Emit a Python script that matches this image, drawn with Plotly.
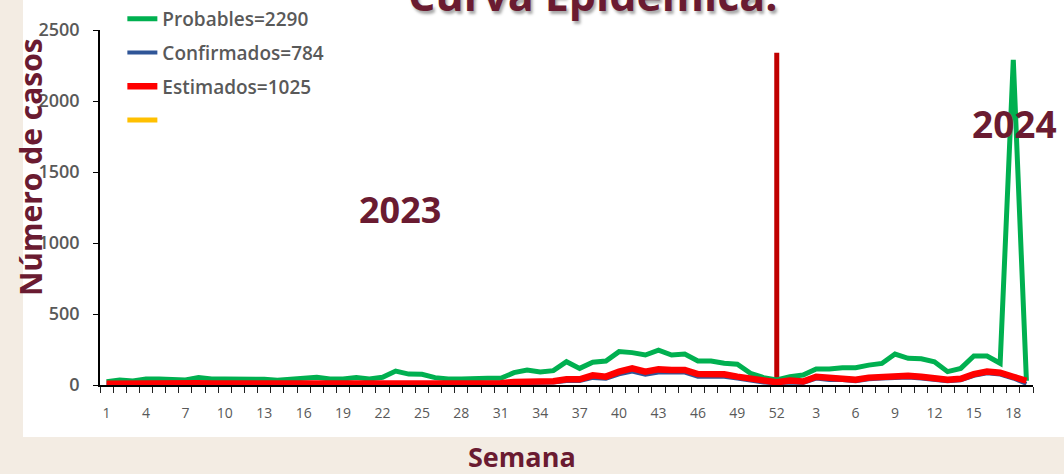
import plotly.graph_objects as go

# Semanas epidemiológicas: 2023 completa y 2024 hasta la semana 19
semanas_2023 = list(range(1, 53))
semanas_2024 = list(range(1, 20))
etiquetas_semana = [str(s) for s in semanas_2023] + [str(s) for s in semanas_2024]

probables_2023 = [23, 35, 28, 42, 42, 42, 35, 52, 42, 42, 42, 42, 40, 33, 40, 54, 54, 42, 42, 52,
                  42, 54, 98, 77, 75, 52, 42, 42, 47, 47, 47, 87, 106, 92, 101, 164, 117, 160, 169, 235,
                  228, 211, 246, 211, 218, 169, 169, 153, 146, 82, 52, 35]
probables_2024 = [59, 70, 113, 113, 122, 122, 140, 152, 218, 188, 185, 164, 94, 117, 204, 204, 153, 2290, 30]

confirmados_2023 = [3, 4, 4, 5, 5, 5, 8, 5, 4, 4, 4, 4, 4, 4, 4, 4, 4, 4, 4, 4,
                    5, 6, 6, 4, 3, 3, 3, 3, 4, 5, 5, 12, 15, 15, 17, 28, 28, 50, 45, 75,
                    95, 72, 88, 88, 88, 58, 58, 58, 45, 30, 18, 12]
confirmados_2024 = [18, 14, 45, 36, 36, 26, 40, 45, 52, 52, 46, 40, 27, 33, 64, 82, 74, 46, 8]

estimados_2023 = [8, 10, 9, 10, 12, 12, 18, 12, 10, 10, 10, 10, 10, 9, 10, 10, 10, 10, 10, 10,
                  12, 14, 14, 10, 8, 8, 8, 8, 10, 12, 12, 22, 24, 24, 26, 40, 40, 68, 59, 94,
                  117, 94, 110, 106, 106, 77, 77, 75, 59, 42, 30, 19]
estimados_2024 = [32, 25, 58, 48, 48, 37, 52, 58, 65, 65, 58, 51, 37, 44, 77, 95, 87, 58, 30]

nombres_series = ["Probables=2290", "Confirmados=784", "Estimados=1025", " "]
colores_series = ["#00B050", "#2F5597", "#FF0000", "#FFC000"]

# Línea divisoria entre años (semana 52 de 2023)
separador_semana = 52
separador_altura = 2340

probables = probables_2023 + probables_2024
confirmados = confirmados_2023 + confirmados_2024
estimados = estimados_2023 + estimados_2024
posiciones = list(range(len(etiquetas_semana)))

GUINDA = "#6A1B31"
GRIS = "#595959"

fig = go.Figure()

idx_sep = separador_semana - 1
fig.add_trace(go.Scatter(x=[idx_sep, idx_sep], y=[0, separador_altura], mode="lines",
                         line=dict(color="#C00000", width=5), showlegend=False, hoverinfo="skip"))

anchos = [5, 4, 6.5, 5]
for i, (serie, nombre, color, ancho) in enumerate(zip([probables, confirmados, estimados, None],
                                                      nombres_series, colores_series, anchos)):
    if serie is None:
        xs, ys = [None], [None]
    else:
        xs, ys = posiciones, serie
    fig.add_trace(go.Scatter(x=xs, y=ys, mode="lines", name=nombre,
                             legendgroup=f"g{i}",
                             line=dict(color=color, width=ancho)))

ticks_idx = posiciones[::3]
ticks_txt = [etiquetas_semana[i] for i in ticks_idx]

fig.update_layout(
    width=1064, height=474,
    margin=dict(l=100, r=31, t=30, b=89, autoexpand=False),
    paper_bgcolor="#F3ECE3",
    plot_bgcolor="white",
    showlegend=True,
    legend=dict(xref="container", yref="container", x=0.115, y=1.012,
                xanchor="left", yanchor="top",
                traceorder="grouped", tracegroupgap=6,
                bgcolor="rgba(0,0,0,0)",
                font=dict(family="Open Sans", size=19, color=GRIS, weight=600)),
    xaxis=dict(range=[-0.5, len(posiciones) - 0.5], tickmode="array",
               tickvals=ticks_idx, ticktext=ticks_txt,
               ticks="outside", ticklen=14, tickcolor="rgba(0,0,0,0)",
               tickfont=dict(family="Open Sans", size=14, color=GRIS),
               showline=True, linecolor="black", linewidth=1.5,
               showgrid=False, zeroline=False,
               minor=dict(tickmode="array",
                          tickvals=[p - 0.5 for p in posiciones] + [len(posiciones) - 0.5],
                          ticks="outside", ticklen=6, tickcolor="#222", tickwidth=1.2,
                          showgrid=False)),
    yaxis=dict(range=[0, 2500], tickmode="array", tickvals=[0, 500, 1000, 1500, 2000, 2500],
               ticks="outside", ticklen=5, tickcolor="black",
               ticklabelstandoff=10,
               tickfont=dict(family="Open Sans", size=18, color=GRIS, weight=600),
               showline=True, linecolor="black", linewidth=1.5,
               showgrid=False, zeroline=False),
    shapes=[dict(type="rect", xref="paper", yref="paper", x0=-0.0825, x1=1.05,
                 y0=-0.1465, y1=1.2, fillcolor="white", line=dict(width=0), layer="below")],
    annotations=[
        dict(text="Curva Epidémica.", xref="paper", yref="paper", x=0.528, y=1.099,
             xanchor="center", yanchor="middle", showarrow=False,
             font=dict(family="Open Sans", size=43, color=GUINDA, weight=700,
                       shadow="2px 3px 3px rgba(0,0,0,0.35)")),
        dict(text="Número de casos", xref="paper", yref="paper", x=-0.075, y=0.614,
             textangle=-90, xanchor="center", yanchor="middle", showarrow=False,
             font=dict(family="Open Sans", size=30, color=GUINDA, weight=700)),
        dict(text="Semana", xref="paper", yref="paper", x=0.452, y=-0.2,
             xanchor="center", yanchor="middle", showarrow=False,
             font=dict(family="Open Sans", size=27, color=GUINDA, weight=700)),
        dict(text="2023", xref="paper", yref="paper", x=0.3215, y=0.493,
             xanchor="center", yanchor="middle", showarrow=False,
             font=dict(family="Open Sans", size=36, color=GUINDA, weight=700)),
        dict(text="2024", xref="paper", yref="paper", x=0.9807, y=0.738,
             xanchor="center", yanchor="middle", showarrow=False,
             font=dict(family="Open Sans", size=37, color=GUINDA, weight=700)),
    ],
)

fig.write_html("out.html")
